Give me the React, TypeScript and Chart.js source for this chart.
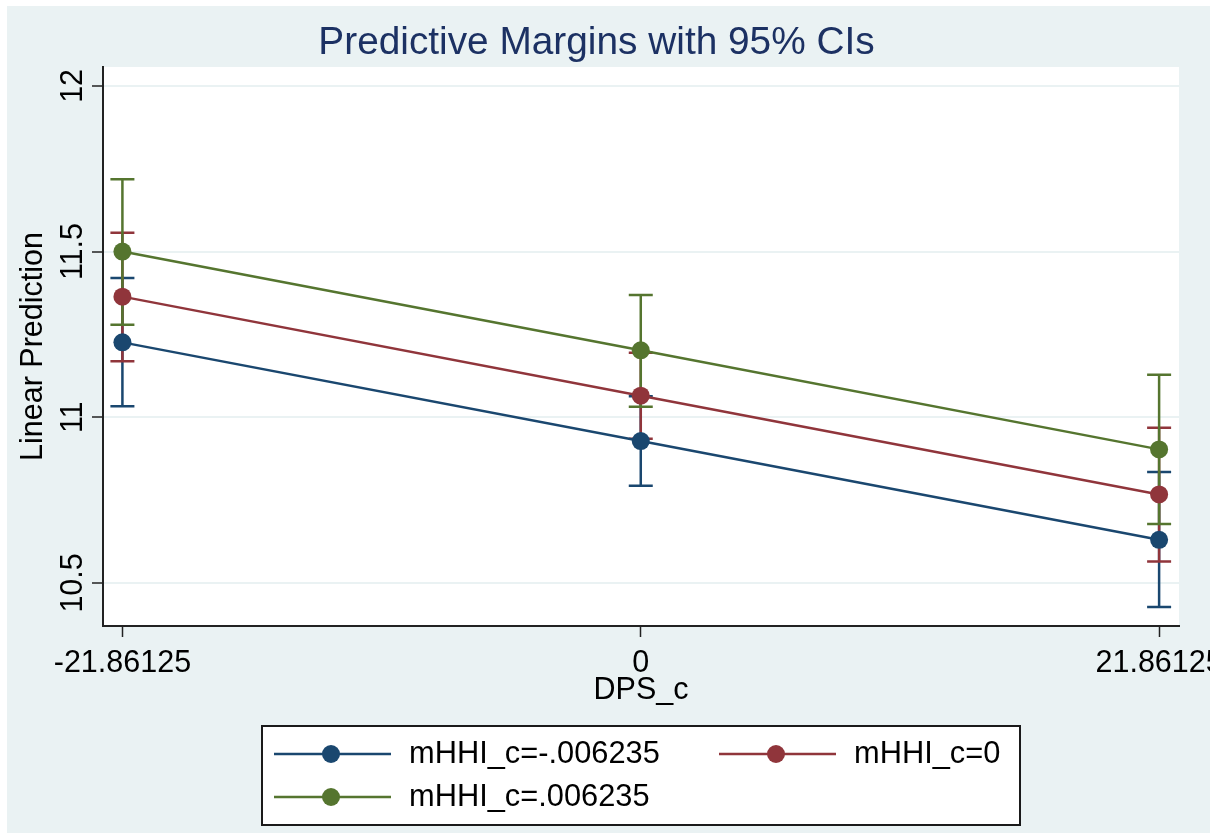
import React, { useEffect, useRef } from "react";
import { Chart, registerables } from "chart.js";

Chart.register(...registerables);

// ---------- data ----------
const xValues = [-21.86125, 0, 21.86125];
const xTickLabels = ["-21.86125", "0", "21.86125"];
const yTickValues = [10.5, 11, 11.5, 12];
const yTickLabels = ["10.5", "11", "11.5", "12"];

const seriesNames = ["mHHI_c=-.006235", "mHHI_c=0", "mHHI_c=.006235"];
const seriesColors = ["#1a476f", "#90353b", "#55752f"];

const marginNeg = [11.226, 10.928, 10.63];
const lowNeg = [11.033, 10.793, 10.427];
const highNeg = [11.42, 11.063, 10.835];

const marginZero = [11.364, 11.065, 10.767];
const lowZero = [11.169, 10.935, 10.565];
const highZero = [11.557, 11.195, 10.968];

const marginPos = [11.5, 11.202, 10.903];
const lowPos = [11.279, 11.032, 10.678];
const highPos = [11.718, 11.369, 11.128];

const titleText = "Predictive Margins with 95% CIs";
const xTitle = "DPS_c";
const yTitle = "Linear Prediction";

const FONT = "'Liberation Sans', Arial, Helvetica, sans-serif";
const BG = "#eaf2f3";

const margins = [marginNeg, marginZero, marginPos];
const lows = [lowNeg, lowZero, lowPos];
const highs = [highNeg, highZero, highPos];

const backgroundPlugin = {
  id: "stataBackground",
  beforeDraw(chart: any) {
    const { ctx, chartArea } = chart;
    ctx.save();
    ctx.fillStyle = "#ffffff";
    ctx.fillRect(0, 0, chart.width, chart.height);
    ctx.fillStyle = BG;
    ctx.fillRect(7, 6, 1203, 827);
    ctx.fillStyle = "#ffffff";
    ctx.fillRect(chartArea.left, chartArea.top, chartArea.right - chartArea.left, chartArea.bottom - chartArea.top);
    ctx.restore();
  },
};

const errorBarPlugin = {
  id: "stataErrorBars",
  beforeDatasetsDraw(chart: any) {
    const { ctx } = chart;
    const xs = chart.scales.x;
    const ys = chart.scales.y;
    ctx.save();
    chart.data.datasets.forEach((ds: any) => {
      ctx.strokeStyle = ds.borderColor;
      ctx.lineWidth = 2.5;
      ds.data.forEach((pt: any, j: number) => {
        const px = xs.getPixelForValue(pt.x);
        const pLo = ys.getPixelForValue(ds.ciLow[j]);
        const pHi = ys.getPixelForValue(ds.ciHigh[j]);
        ctx.beginPath();
        ctx.moveTo(px, pLo);
        ctx.lineTo(px, pHi);
        ctx.moveTo(px - 12, pLo);
        ctx.lineTo(px + 12, pLo);
        ctx.moveTo(px - 12, pHi);
        ctx.lineTo(px + 12, pHi);
        ctx.stroke();
      });
    });
    ctx.restore();
  },
};

const overlayPlugin = {
  id: "stataOverlay",
  afterDraw(chart: any) {
    const { ctx } = chart;
    ctx.save();
    // clip area to the right of the graph region
    ctx.fillStyle = "#ffffff";
    ctx.fillRect(1210, 0, chart.width - 1210, chart.height);

    // title
    ctx.fillStyle = "#1c3163";
    ctx.font = `38.8px ${FONT}`;
    ctx.textAlign = "center";
    ctx.textBaseline = "alphabetic";
    ctx.fillText(titleText, 596.5, 54);

    // legend
    ctx.fillStyle = "#ffffff";
    ctx.fillRect(262, 726, 758, 99);
    ctx.strokeStyle = "#1a1a1a";
    ctx.lineWidth = 2;
    ctx.strokeRect(262, 726, 758, 99);
    const items = [
      { i: 0, x: 274, y: 754 },
      { i: 1, x: 719, y: 754 },
      { i: 2, x: 274, y: 797 },
    ];
    items.forEach(({ i, x, y }) => {
      const c = seriesColors[i];
      ctx.strokeStyle = c;
      ctx.lineWidth = 2.5;
      ctx.beginPath();
      ctx.moveTo(x, y);
      ctx.lineTo(x + 117, y);
      ctx.stroke();
      ctx.fillStyle = c;
      ctx.beginPath();
      ctx.arc(x + 57, y, 9, 0, Math.PI * 2);
      ctx.fill();
      ctx.fillStyle = "#000000";
      ctx.font = `30.8px ${FONT}`;
      ctx.textAlign = "left";
      ctx.textBaseline = "middle";
      ctx.fillText(seriesNames[i], x + 135, y + 1);
    });
    ctx.restore();
  },
};

export default function App() {
  const canvasRef = useRef<HTMLCanvasElement | null>(null);

  useEffect(() => {
    const canvas = canvasRef.current;
    if (!canvas) return;

    const datasets = margins.map((vals, i) => ({
      label: seriesNames[i],
      data: xValues.map((x, j) => ({ x, y: vals[j] })),
      ciLow: lows[i],
      ciHigh: highs[i],
      borderColor: seriesColors[i],
      backgroundColor: seriesColors[i],
      pointBackgroundColor: seriesColors[i],
      pointBorderWidth: 0,
      pointRadius: 9,
      pointHoverRadius: 9,
      borderWidth: 2.5,
      tension: 0,
      fill: false,
    }));

    const chart = new Chart(canvas, {
      type: "line",
      data: { datasets: datasets as any },
      options: {
        animation: false,
        responsive: false,
        maintainAspectRatio: false,
        events: [],
        layout: { padding: { left: 0, right: 39, top: 67, bottom: 117 } },
        plugins: {
          legend: { display: false },
          title: { display: false },
          tooltip: { enabled: false },
        },
        scales: {
          x: {
            type: "linear",
            min: -22.68,
            max: 22.7,
            offset: false,
            afterBuildTicks: (s: any) => {
              s.ticks = xValues.map((v) => ({ value: v }));
            },
            afterFit: (s: any) => {
              s.height = 90;
              s.paddingLeft = 0;
              s.paddingRight = 0;
            },
            ticks: {
              autoSkip: false,
              maxRotation: 0,
              minRotation: 0,
              padding: 8,
              color: "#000000",
              font: { family: FONT, size: 30.5 },
              callback: (_v: any, idx: number) => xTickLabels[idx],
            },
            grid: {
              drawOnChartArea: false,
              drawTicks: true,
              tickLength: 11,
              tickColor: "#222222",
              tickWidth: 1.5,
            },
            border: { display: true, color: "#222222", width: 2 },
            title: {
              display: true,
              text: xTitle,
              color: "#000000",
              font: { family: FONT, size: 30.5 },
              padding: { top: 0, bottom: 6.7 },
            },
          },
          y: {
            type: "linear",
            min: 10.37,
            max: 12.057,
            afterBuildTicks: (s: any) => {
              s.ticks = yTickValues.map((v) => ({ value: v }));
            },
            afterFit: (s: any) => {
              s.width = 103;
            },
            ticks: {
              autoSkip: false,
              minRotation: 90,
              maxRotation: 90,
              crossAlign: "center",
              padding: -11,
              color: "#000000",
              font: { family: FONT, size: 30.5 },
              callback: (_v: any, idx: number) => yTickLabels[idx],
            },
            grid: {
              drawOnChartArea: true,
              color: BG,
              lineWidth: 2,
              drawTicks: true,
              tickLength: 11,
              tickColor: "#222222",
              tickWidth: 1.5,
            },
            border: { display: true, color: "#222222", width: 2 },
            title: {
              display: true,
              text: yTitle,
              color: "#000000",
              font: { family: FONT, size: 30.5 },
              padding: { top: 15.6, bottom: 0 },
            },
          },
        },
      },
      plugins: [backgroundPlugin, errorBarPlugin, overlayPlugin],
    } as any);

    return () => chart.destroy();
  }, []);

  return (
    <div style={{ position: "fixed", left: 0, top: 0, width: 1218, height: 833, background: "#ffffff" }}>
      <canvas ref={canvasRef} width={1218} height={833} style={{ width: 1218, height: 833, display: "block" }} />
    </div>
  );
}
